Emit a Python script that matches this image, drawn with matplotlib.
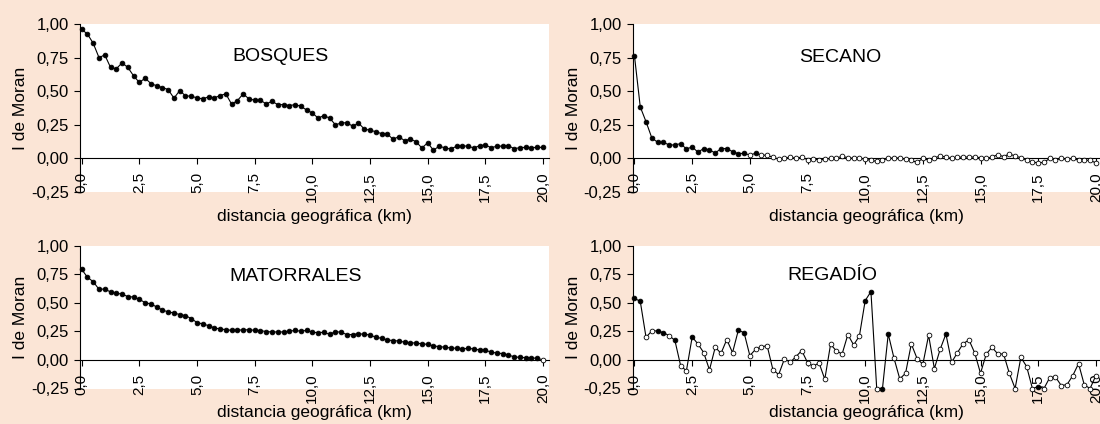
import matplotlib
matplotlib.use('Agg')
import matplotlib.pyplot as plt
import numpy as np
from matplotlib.ticker import FuncFormatter

plt.rcParams['font.family'] = ['Liberation Sans', 'DejaVu Sans']

## distance lags (km), one every 0.25 km
dist = np.arange(81) * 0.25

bosques = [0.96, 0.925, 0.856, 0.75, 0.77, 0.677, 0.667, 0.711, 0.677, 0.614,
           0.565, 0.597, 0.557, 0.54, 0.527, 0.512, 0.448, 0.505, 0.465, 0.463,
           0.45, 0.443, 0.458, 0.45, 0.468, 0.48, 0.403, 0.43, 0.48, 0.443,
           0.433, 0.433, 0.405, 0.425, 0.40, 0.40, 0.393, 0.40, 0.388, 0.36,
           0.338, 0.30, 0.318, 0.30, 0.25, 0.263, 0.266, 0.239, 0.263, 0.219,
           0.209, 0.199, 0.184, 0.182, 0.142, 0.162, 0.132, 0.144, 0.124, 0.077,
           0.117, 0.06, 0.092, 0.077, 0.07, 0.09, 0.092, 0.092, 0.077, 0.095,
           0.10, 0.08, 0.09, 0.092, 0.095, 0.072, 0.08, 0.082, 0.08, 0.082, 0.082]

secano = [0.76, 0.383, 0.273, 0.153, 0.12, 0.12, 0.10, 0.10, 0.11, 0.07,
          0.085, 0.047, 0.073, 0.063, 0.04, 0.073, 0.073, 0.05, 0.035, 0.038,
          0.025, 0.038, 0.025, 0.023, 0.008, -0.005, 0.0, 0.01, 0.0, 0.01,
          -0.01, -0.005, -0.01, -0.008, 0.0, 0.003, 0.015, 0.005, 0.0, 0.003,
          -0.008, -0.013, -0.023, -0.013, 0.0, 0.003, 0.003, -0.008, -0.015, -0.03,
          0.0, -0.013, 0.003, 0.018, 0.01, 0.0, 0.008, 0.01, 0.01, 0.01,
          0.005, 0.0, 0.01, 0.028, 0.013, 0.033, 0.018, 0.005, -0.013, -0.028,
          -0.033, -0.03, 0.0, -0.013, 0.0, -0.008, 0.0, -0.013, -0.013, -0.015, -0.033]

matorrales = [0.793, 0.723, 0.685, 0.618, 0.621, 0.595, 0.583, 0.577, 0.554, 0.551,
              0.531, 0.501, 0.49, 0.464, 0.437, 0.42, 0.411, 0.397, 0.388, 0.362,
              0.327, 0.315, 0.30, 0.28, 0.271, 0.265, 0.259, 0.262, 0.262, 0.265,
              0.259, 0.257, 0.248, 0.245, 0.245, 0.245, 0.251, 0.259, 0.251, 0.259,
              0.242, 0.239, 0.242, 0.224, 0.248, 0.242, 0.222, 0.222, 0.23, 0.224,
              0.219, 0.198, 0.19, 0.175, 0.169, 0.166, 0.155, 0.149, 0.149, 0.14,
              0.137, 0.122, 0.117, 0.111, 0.105, 0.102, 0.096, 0.102, 0.096, 0.087,
              0.087, 0.067, 0.061, 0.055, 0.044, 0.026, 0.023, 0.02, 0.017, 0.015, 0.0]

regadio = [0.539, 0.513, 0.198, 0.254, 0.254, 0.239, 0.213, 0.172, -0.05, -0.096,
           0.201, 0.14, 0.064, -0.087, 0.111, 0.058, 0.178, 0.064, 0.259, 0.239,
           0.038, 0.093, 0.114, 0.125, -0.085, -0.128, 0.009, -0.02, 0.029, 0.082,
           -0.023, -0.055, -0.026, -0.169, 0.137, 0.079, 0.052, 0.222, 0.131, 0.21,
           0.519, 0.598, -0.25, -0.25, 0.227, 0.015, -0.166, -0.117, 0.14, 0.012,
           -0.038, 0.216, -0.076, 0.093, 0.227, -0.02, 0.064, 0.143, 0.175, 0.061,
           -0.117, 0.052, 0.111, 0.052, 0.052, -0.117, -0.25, 0.023, -0.058, -0.25,
           -0.234, -0.25, -0.155, -0.149, -0.224, -0.216, -0.137, -0.032, -0.219, -0.25, -0.137]

## indices of significant lags (filled markers)
bosques_sig = list(range(81))
secano_sig = list(range(20)) + [21]
matorrales_sig = list(range(80))
regadio_sig = [0, 1, 4, 5, 7, 10, 18, 19, 40, 41, 43, 44, 54, 70]

bg = '#FBE5D6'
fig = plt.figure(figsize=(11, 4.24), dpi=100, facecolor=bg)

panels = [
    ('BOSQUES', bosques, bosques_sig, [80/1100, 232/424, 469/1100, 168/424], (-0.074, 20.26), (8.6, 0.756)),
    ('SECANO', secano, secano_sig, [632.7/1100, 232/424, 467.3/1100, 168/424], (-0.078, 20.18), (8.9, 0.75)),
    ('MATORRALES', matorrales, matorrales_sig, [80/1100, 35.5/424, 469/1100, 142.8/424], (-0.074, 20.26), (9.27, 0.73)),
    ('REGADÍO', regadio, regadio_sig, [632.7/1100, 35.5/424, 467.3/1100, 142.8/424], (-0.078, 20.18), (8.58, 0.737)),
]

yfmt = FuncFormatter(lambda v, p: f'{v:.2f}'.replace('.', ','))
xfmt = FuncFormatter(lambda v, p: f'{v:.1f}'.replace('.', ','))

for name, vals, sig, rect, xl, tpos in panels:
    ax = fig.add_axes(rect)
    ax.set_facecolor('white')
    vals = np.array(vals)
    mask = np.zeros(len(vals), dtype=bool)
    mask[sig] = True
    ax.plot(dist, vals, color='black', lw=0.8, clip_on=False, zorder=3)
    ax.plot(dist[mask], vals[mask], 'o', ms=3.4, mfc='black', mec='black', mew=0.6,
            clip_on=False, zorder=4)
    ax.plot(dist[~mask], vals[~mask], 'o', ms=3.4, mfc='white', mec='black', mew=0.6,
            clip_on=False, zorder=4)
    ax.set_xlim(*xl)
    ax.set_ylim(-0.25, 1.0)
    ax.set_yticks(np.arange(-0.25, 1.01, 0.25))
    ax.set_xticks(np.arange(0, 20.01, 2.5))
    ax.yaxis.set_major_formatter(yfmt)
    ax.xaxis.set_major_formatter(xfmt)
    ax.spines['top'].set_visible(False)
    ax.spines['right'].set_visible(False)
    ax.spines['bottom'].set_position(('data', 0))
    ax.spines['bottom'].set_linewidth(0.8)
    ax.spines['left'].set_linewidth(0.8)
    ax.tick_params(axis='y', direction='out', length=4, width=0.8, pad=4, labelsize=12)
    ax.tick_params(axis='x', direction='out', length=4, width=0.8, pad=6, labelsize=11,
                   labelrotation=90)
    for lab in ax.get_xticklabels():
        lab.set_va('top')
        lab.set_ha('center')
    ax.text(tpos[0], tpos[1], name, ha='center', va='center', fontsize=14)
    ax.set_ylabel('I de Moran', fontsize=12.5)
    ax.set_xlabel('distancia geográfica (km)', fontsize=12.5)
    h = rect[3] * 424
    ax.yaxis.set_label_coords(-52 / (rect[2] * 1100), 0.5)
    ax.xaxis.set_label_coords(0.5, -17 / h)

fig.savefig('out.png', dpi=100, facecolor=bg)
